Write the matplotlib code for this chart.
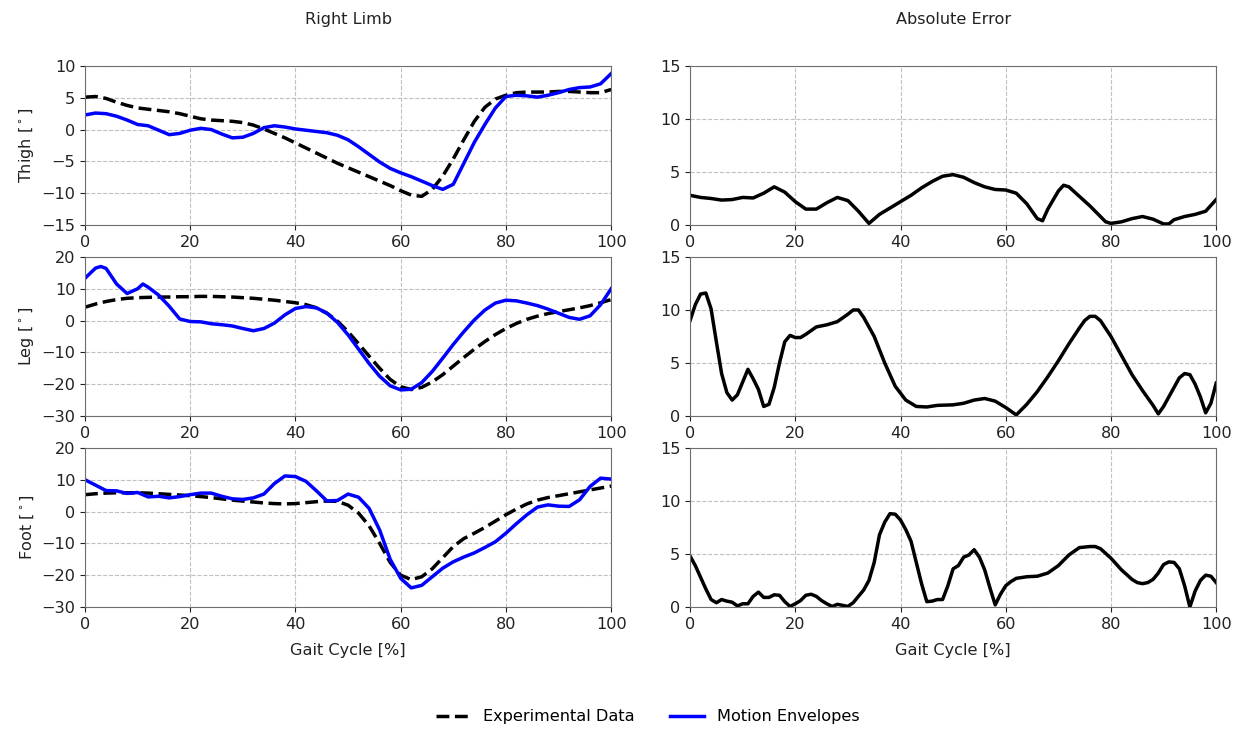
import matplotlib
matplotlib.use("Agg")
import matplotlib.pyplot as plt
import numpy as np

plt.rcParams['font.family'] = ['DejaVu Sans']
plt.rcParams['font.size'] = 11.6

# ---- data ----
x2 = list(range(0, 101, 2))

thigh_exp = [5.1, 5.2, 4.9, 4.3, 3.8, 3.4, 3.2, 3.0, 2.8, 2.5, 2.1, 1.7, 1.5, 1.4, 1.3, 1.1, 0.7, 0.1,
             -0.6, -1.3, -2.1, -2.9, -3.7, -4.5, -5.3, -6.0, -6.7, -7.4, -8.1, -8.8, -9.6, -10.3, -10.5,
             -9.4, -7.3, -4.6, -1.6, 1.3, 3.5, 4.8, 5.4, 5.8, 5.9, 5.9, 5.9, 6.0, 6.0, 5.9, 5.8, 5.8, 6.3]
thigh_env = [2.3, 2.6, 2.5, 2.1, 1.5, 0.8, 0.6, -0.1, -0.8, -0.6, -0.1, 0.2, 0.0, -0.7, -1.3, -1.2, -0.6,
             0.3, 0.6, 0.4, 0.1, -0.1, -0.3, -0.5, -0.9, -1.6, -2.7, -3.9, -5.1, -6.1, -6.8, -7.4, -8.1,
             -8.8, -9.4, -8.6, -5.3, -2.0, 0.8, 3.4, 5.2, 5.4, 5.3, 5.1, 5.4, 5.8, 6.3, 6.6, 6.7, 7.2, 8.8]

leg_exp = [4.2, 5.2, 6.0, 6.6, 7.0, 7.2, 7.3, 7.4, 7.4, 7.5, 7.5, 7.6, 7.6, 7.5, 7.4, 7.2, 7.0, 6.7, 6.4,
           6.0, 5.6, 5.0, 4.0, 2.3, -0.2, -3.5, -7.3, -11.2, -15.0, -18.5, -20.8, -21.7, -21.0, -19.3,
           -17.0, -14.3, -11.6, -9.0, -6.6, -4.4, -2.5, -0.9, 0.4, 1.4, 2.2, 2.8, 3.4, 4.0, 4.7, 5.6, 6.6]
leg_env_x = [0, 2, 3, 4, 6, 8, 10, 11, 12, 14, 16, 18, 20, 22, 24, 26, 28, 30, 32, 34, 36, 38, 40, 42,
             44, 46, 48, 50, 52, 54, 56, 58, 60, 62, 64, 66, 68, 70, 72, 74, 76, 78, 80, 82, 84, 86, 88,
             90, 92, 94, 96, 98, 100]
leg_env = [13.3, 16.5, 17.0, 16.4, 11.5, 8.5, 10.0, 11.5, 10.5, 8.0, 4.5, 0.5, -0.3, -0.4, -1.0, -1.3,
           -1.7, -2.5, -3.2, -2.5, -0.8, 1.8, 3.8, 4.4, 4.0, 2.3, -0.6, -4.5, -9.0, -13.5, -17.5, -20.5,
           -21.8, -21.6, -19.5, -16.0, -11.8, -7.5, -3.5, 0.2, 3.3, 5.5, 6.4, 6.2, 5.5, 4.7, 3.6, 2.3,
           1.0, 0.4, 1.5, 5.0, 10.0]

foot_exp = [5.3, 5.6, 5.8, 5.9, 5.9, 5.9, 5.8, 5.6, 5.4, 5.2, 5.0, 4.7, 4.4, 4.0, 3.6, 3.3, 3.0, 2.7,
            2.5, 2.4, 2.5, 2.8, 3.1, 3.3, 3.2, 2.0, -0.5, -4.5, -10.0, -16.0, -20.0, -21.4, -20.5, -18.0,
            -14.5, -11.0, -8.5, -6.8, -5.0, -3.0, -1.0, 0.8, 2.4, 3.6, 4.4, 5.0, 5.6, 6.2, 6.8, 7.4, 8.0]
foot_env = [10.0, 8.3, 6.6, 6.5, 5.7, 6.0, 4.6, 4.8, 4.3, 4.7, 5.3, 5.8, 5.8, 4.8, 4.0, 3.8, 4.3, 5.5,
            8.8, 11.2, 11.0, 9.5, 6.5, 3.3, 3.5, 5.5, 4.5, 1.0, -5.8, -15.0, -21.0, -24.0, -23.2, -20.5,
            -17.8, -15.8, -14.3, -13.0, -11.3, -9.5, -6.8, -3.8, -1.0, 1.4, 2.1, 1.7, 1.6, 3.7, 7.9, 10.5,
            10.2]

thigh_err_x = [0, 2, 4, 6, 8, 10, 12, 14, 16, 18, 20, 22, 24, 26, 28, 30, 32, 34, 36, 38, 40, 42, 44,
               46, 48, 50, 52, 54, 56, 58, 60, 62, 64, 66, 67, 68, 70, 71, 72, 74, 76, 78, 79, 80, 82,
               84, 86, 88, 90, 91, 92, 94, 96, 98, 100]
thigh_err = [2.8, 2.6, 2.5, 2.35, 2.4, 2.6, 2.55, 3.0, 3.6, 3.1, 2.2, 1.5, 1.5, 2.1, 2.6, 2.3, 1.3, 0.15,
             1.0, 1.6, 2.2, 2.8, 3.5, 4.1, 4.6, 4.75, 4.5, 4.0, 3.6, 3.35, 3.3, 3.0, 2.0, 0.6, 0.4, 1.5,
             3.2, 3.75, 3.6, 2.7, 1.8, 0.8, 0.3, 0.15, 0.3, 0.6, 0.8, 0.55, 0.1, 0.1, 0.5, 0.8, 1.0, 1.3,
             2.4]

leg_err_x = [0, 1, 2, 3, 4, 5, 6, 7, 8, 9, 10, 11, 12, 13, 14, 15, 16, 17, 18, 19, 20, 21, 22, 24, 26,
             28, 30, 31, 32, 33, 35, 37, 39, 41, 43, 45, 47, 50, 52, 54, 56, 58, 60, 62, 64, 66, 68, 70,
             72, 74, 75, 76, 77, 78, 80, 82, 84, 86, 88, 89, 90, 92, 93, 94, 95, 96, 97, 98, 99, 100]
leg_err = [9.0, 10.5, 11.5, 11.6, 10.1, 7.0, 4.0, 2.2, 1.5, 2.0, 3.2, 4.4, 3.5, 2.5, 0.9, 1.1, 2.7, 5.0,
           7.0, 7.6, 7.4, 7.4, 7.7, 8.4, 8.6, 8.9, 9.6, 10.0, 10.0, 9.3, 7.5, 5.0, 2.8, 1.5, 0.9, 0.85,
           1.0, 1.05, 1.2, 1.5, 1.65, 1.4, 0.8, 0.1, 1.1, 2.3, 3.7, 5.2, 6.8, 8.3, 9.0, 9.4, 9.4, 9.0,
           7.5, 5.7, 3.9, 2.4, 1.0, 0.2, 0.9, 2.7, 3.6, 4.0, 3.9, 3.0, 1.8, 0.3, 1.2, 3.1]

foot_err_x = [0, 1, 2, 3, 4, 5, 6, 7, 8, 9, 10, 11, 12, 13, 14, 15, 16, 17, 18, 19, 20, 21, 22, 23, 24,
              25, 26, 27, 28, 29, 30, 31, 32, 33, 34, 35, 36, 37, 38, 39, 40, 41, 42, 43, 44, 45, 46, 47,
              48, 49, 50, 51, 52, 53, 54, 55, 56, 57, 58, 59, 60, 61, 62, 64, 66, 68, 70, 72, 74, 76, 77,
              78, 80, 82, 84, 85, 86, 87, 88, 89, 90, 91, 92, 93, 94, 95, 96, 97, 98, 99, 100]
foot_err = [4.8, 3.9, 2.8, 1.7, 0.7, 0.4, 0.7, 0.55, 0.45, 0.1, 0.3, 0.3, 1.0, 1.4, 0.9, 0.9, 1.15, 1.1,
            0.5, 0.05, 0.3, 0.6, 1.1, 1.2, 1.0, 0.6, 0.3, 0.05, 0.25, 0.15, 0.05, 0.4, 1.0, 1.6, 2.5,
            4.2, 6.8, 8.0, 8.8, 8.75, 8.2, 7.3, 6.2, 4.2, 2.2, 0.5, 0.55, 0.7, 0.7, 2.0, 3.6, 3.9, 4.7,
            4.9, 5.4, 4.7, 3.5, 1.8, 0.2, 1.2, 2.0, 2.4, 2.7, 2.85, 2.9, 3.2, 3.9, 4.9, 5.6, 5.7, 5.7,
            5.5, 4.6, 3.5, 2.6, 2.3, 2.2, 2.3, 2.6, 3.2, 4.0, 4.25, 4.2, 3.6, 2.0, 0.0, 1.5, 2.5, 3.0,
            2.9, 2.3]

segments = ["Thigh", "Leg", "Foot"]
y_limits = [(-15, 10), (-30, 20), (-30, 20)]
y_steps = [5, 10, 10]

left_data = [(x2, thigh_exp, x2, thigh_env),
             (x2, leg_exp, leg_env_x, leg_env),
             (x2, foot_exp, x2, foot_env)]
right_data = [(thigh_err_x, thigh_err), (leg_err_x, leg_err), (foot_err_x, foot_err)]

FS = 11.6


def style_ax(ax):
    ax.grid(True, linestyle='--', color='#c0c0c0', linewidth=0.8)
    ax.set_axisbelow(True)
    for s in ax.spines.values():
        s.set_color('#6e6e6e')
    ax.tick_params(colors='#222222', labelsize=FS)
    ax.set_xlim(0, 100)
    ax.set_xticks(range(0, 101, 20))


fig, axes = plt.subplots(3, 2, figsize=(12.41, 7.29), dpi=100)
plt.subplots_adjust(left=0.0685, right=0.98, top=0.9095, bottom=0.1674, wspace=0.15, hspace=0.201)

for i in range(3):
    ax = axes[i, 0]
    xe, ye, xm, ym = left_data[i]
    ax.plot(xe, ye, color='black', linestyle='--', lw=2.5, label='Experimental Data')
    ax.plot(xm, ym, color='blue', lw=2.5, label='Motion Envelopes')
    style_ax(ax)
    lo, hi = y_limits[i]
    ax.set_ylim(lo, hi)
    ax.set_yticks(np.arange(lo, hi + 1, y_steps[i]))
    ax.set_ylabel(segments[i] + r' [$^\circ$]', fontsize=FS, color='#222222')

    ax2 = axes[i, 1]
    xr, yr = right_data[i]
    ax2.plot(xr, yr, color='black', lw=2.5)
    style_ax(ax2)
    ax2.set_ylim(0, 15)
    ax2.set_yticks([0, 5, 10, 15])

axes[0, 0].set_title("Right Limb", fontsize=FS, pad=30, color='#222222')
axes[0, 1].set_title("Absolute Error", fontsize=FS, pad=30, color='#222222')
axes[2, 0].set_xlabel("Gait Cycle [%]", fontsize=FS, labelpad=8, color='#222222')
axes[2, 1].set_xlabel("Gait Cycle [%]", fontsize=FS, labelpad=8, color='#222222')

h, l = axes[0, 0].get_legend_handles_labels()
fig.legend(h, l, loc='center', bbox_to_anchor=(0.522, 0.0165), ncol=2, frameon=False,
           fontsize=FS, columnspacing=2.2, handlelength=2.1)

plt.savefig("out.png", dpi=100)
